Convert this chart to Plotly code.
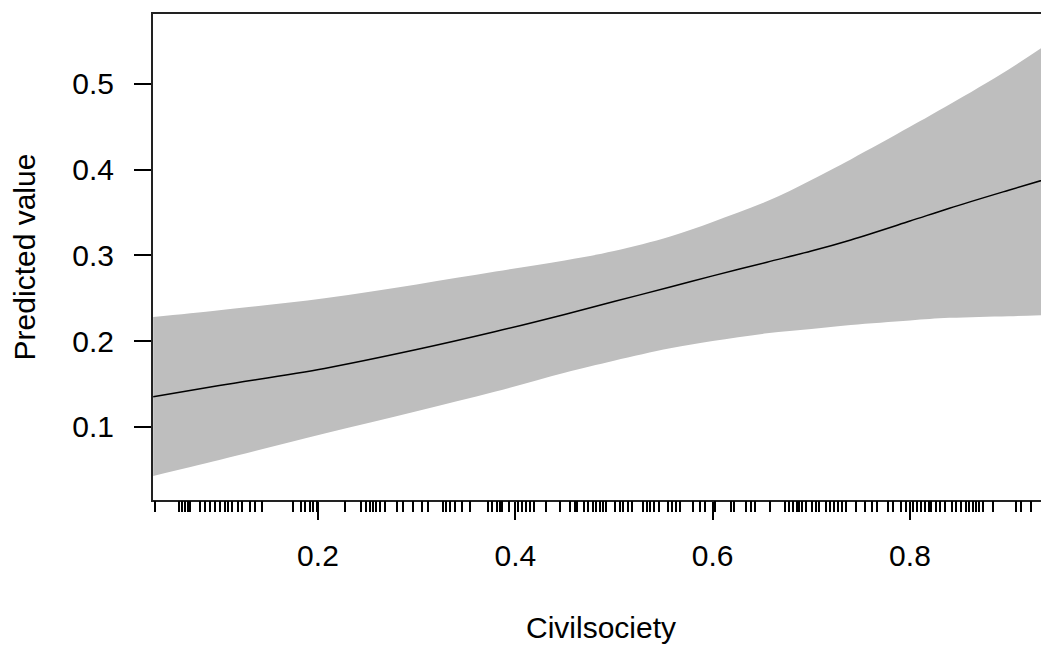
import plotly.graph_objects as go

# Civilsociety grid points
civ = [0.033, 0.1, 0.2067, 0.3, 0.38, 0.45, 0.5, 0.557, 0.6, 0.655, 0.7, 0.74, 0.8, 0.84, 0.9, 0.941]
fit = [0.135, 0.148, 0.168, 0.19, 0.211, 0.231, 0.246, 0.263, 0.276, 0.292, 0.305, 0.318, 0.340, 0.355, 0.376, 0.390]
upper = [0.228, 0.236, 0.250, 0.266, 0.281, 0.294, 0.305, 0.322, 0.339, 0.363, 0.388, 0.412, 0.450, 0.476, 0.517, 0.548]
lower = [0.0425, 0.061, 0.092, 0.118, 0.141, 0.163, 0.177, 0.1915, 0.200, 0.209, 0.214, 0.2187, 0.224, 0.227, 0.229, 0.2304]

# rug (observed Civilsociety values)
rug = [0.035, 0.059, 0.062, 0.065, 0.068, 0.070, 0.0805, 0.0856, 0.0906, 0.0957, 0.1008, 0.106, 0.109,
       0.1126, 0.119, 0.123, 0.131, 0.136, 0.143, 0.175, 0.183, 0.187, 0.192, 0.195, 0.199, 0.227,
       0.244, 0.249, 0.253, 0.256, 0.259, 0.263, 0.268, 0.280, 0.286, 0.2965, 0.305, 0.312, 0.327,
       0.330, 0.334, 0.339, 0.3455, 0.354, 0.3725, 0.376, 0.381, 0.384, 0.387, 0.394, 0.403, 0.407,
       0.411, 0.415, 0.419, 0.4316, 0.445, 0.455, 0.460, 0.463, 0.470, 0.474, 0.479, 0.482, 0.486,
       0.489, 0.492, 0.5008, 0.506, 0.509, 0.514, 0.518, 0.529, 0.533, 0.536, 0.541, 0.546, 0.555,
       0.559, 0.563, 0.567, 0.580, 0.587, 0.592, 0.602, 0.619, 0.622, 0.634, 0.639, 0.643, 0.658,
       0.673, 0.677, 0.681, 0.685, 0.688, 0.691, 0.695, 0.701, 0.705, 0.708, 0.715, 0.719, 0.723,
       0.727, 0.731, 0.735, 0.7455, 0.754, 0.761, 0.767, 0.778, 0.7826, 0.791, 0.796, 0.803, 0.807,
       0.811, 0.815, 0.819, 0.8215, 0.8265, 0.830, 0.835, 0.843, 0.847, 0.852, 0.857, 0.860, 0.8636,
       0.867, 0.870, 0.874, 0.884, 0.9076, 0.9126, 0.9227]

x_ticks = [0.2, 0.4, 0.6, 0.8]
y_ticks = [0.1, 0.2, 0.3, 0.4, 0.5]
x_range = [0.0328, 0.9409]
y_range = [0.0144, 0.5817]

FONT = "Liberation Sans, Arial, sans-serif"

fig = go.Figure()
fig.add_trace(go.Scatter(x=civ, y=lower, mode="lines", line=dict(width=0, color="#BEBEBE", shape="spline"),
                         showlegend=False, hoverinfo="skip"))
fig.add_trace(go.Scatter(x=civ, y=upper, mode="lines", line=dict(width=0, color="#BEBEBE", shape="spline"),
                         fill="tonexty", fillcolor="#BEBEBE", showlegend=False, hoverinfo="skip"))
fig.add_trace(go.Scatter(x=civ, y=fit, mode="lines", line=dict(width=1.5, color="black", shape="spline"),
                         showlegend=False))
# dummy trace to activate rug axis
fig.add_trace(go.Scatter(x=[x_range[0]], y=[y_range[0]], xaxis="x2", mode="markers",
                         marker=dict(opacity=0), showlegend=False, hoverinfo="skip"))

fig.update_layout(
    width=1041, height=641,
    margin=dict(l=145, r=0, t=6, b=149),
    plot_bgcolor="white", paper_bgcolor="white",
    font=dict(family=FONT, size=30, color="black"),
    xaxis=dict(range=x_range, tickvals=x_ticks, ticktext=["0.2", "0.4", "0.6", "0.8"],
               ticks="outside", ticklen=18, tickwidth=1.5, tickcolor="black",
               showline=True, linecolor="#222", linewidth=2, mirror=True,
               showgrid=False, zeroline=False, automargin=False,
               ticklabelstandoff=10,
               tickfont=dict(size=30, family=FONT, color="black"),
               title=dict(text="Civilsociety", standoff=46, font=dict(size=30, family=FONT))),
    xaxis2=dict(range=x_range, overlaying="x", anchor="y", side="bottom",
                tickvals=rug, ticks="outside", ticklen=11, tickwidth=2, tickcolor="black",
                showticklabels=False, showline=False, showgrid=False, zeroline=False,
                automargin=False),
    yaxis=dict(range=y_range, tickvals=y_ticks, ticktext=["0.1", "0.2", "0.3", "0.4", "0.5"],
               ticks="outside", ticklen=17, tickwidth=1.5, tickcolor="black",
               showline=True, linecolor="#222", linewidth=2,
               showgrid=False, zeroline=False, automargin=False,
               ticklabelstandoff=14,
               tickfont=dict(size=30, family=FONT, color="black"),
               title=dict(text="Predicted value", standoff=32, font=dict(size=30, family=FONT))),
)

fig.write_html("out.html")
